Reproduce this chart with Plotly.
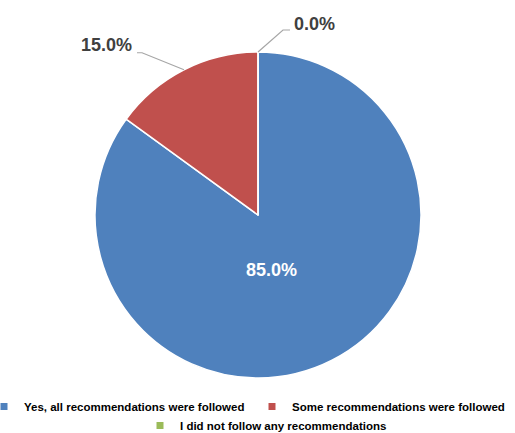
import math
import plotly.graph_objects as go

# ---- data ----
labels = [
    "Yes, all recommendations were followed",
    "Some recommendations were followed",
    "I did not follow any recommendations",
]
values = [85.0, 15.0, 0.0]
colors = ["#4F81BD", "#C0504D", "#9BBB59"]

# ---- geometry (pixels) ----
W, H = 515, 433
CX, CY, R = 258, 215, 163
FONT = "Liberation Sans"
LABEL_COLOR = "#404040"
LEADER_COLOR = "#A6A6A6"


def px_to_paper(x, y):
    return x / W, 1 - y / H


dx0, dy1 = px_to_paper(CX - R, CY - R)
dx1, dy0 = px_to_paper(CX + R, CY + R)

fig = go.Figure()
fig.add_trace(go.Pie(
    labels=labels,
    values=values,
    sort=False,
    direction="clockwise",
    rotation=0,
    marker=dict(colors=colors, line=dict(color="white", width=1.5)),
    textinfo="none",
    hoverinfo="label+percent",
    showlegend=False,
    domain=dict(x=[dx0, dx1], y=[dy0, dy1]),
))

# ---- data labels ----
total = sum(values)
# placement per slice: (kind, elbow offset, end offset, text offset)
placement = [
    ("inside", None, None, None),
    ("left", (-42, -17), (-47, -17), (-50, -25)),
    ("right", (25, -22), (32, -22), (34, -28)),
]
cum = 0.0
for v, (kind, elbow, end, toff) in zip(values, placement):
    theta = (cum + v / 2) / total * 2 * math.pi
    cum += v
    text = f"{v / total * 100:.1f}%"
    s, c = math.sin(theta), math.cos(theta)
    if kind == "inside":
        x, y = px_to_paper(CX + 0.36 * R * s, CY - 0.36 * R * c)
        fig.add_annotation(x=x, y=y, xref="paper", yref="paper", text=text,
                           showarrow=False, xanchor="center", yanchor="middle",
                           xshift=-13, yshift=-3,
                           font=dict(family=FONT, size=18, color="white", weight="bold"))
        continue
    ex, ey = CX + R * s, CY - R * c
    pts = [(ex, ey), (ex + elbow[0], ey + elbow[1]), (ex + end[0], ey + end[1])]
    path = ""
    for i, (px, py) in enumerate(pts):
        qx, qy = px_to_paper(px, py)
        path += ("M" if i == 0 else " L") + f"{qx:.5f},{qy:.5f}"
    fig.add_shape(type="path", path=path, xref="paper", yref="paper",
                  line=dict(color=LEADER_COLOR, width=1.2))
    tx, ty = px_to_paper(ex + toff[0], ey + toff[1])
    fig.add_annotation(x=tx, y=ty, xref="paper", yref="paper", text=text,
                       showarrow=False,
                       xanchor="right" if kind == "left" else "left",
                       yanchor="middle",
                       font=dict(family=FONT, size=18, color=LABEL_COLOR, weight="bold"))

# ---- legend entries (one legend per entry so rows can be placed freely) ----
legend_names = ["legend", "legend2", "legend3"]
legend_pos = [(-16, 406.5), (252, 406.5), (140, 425.5)]
for lab, col, lname in zip(labels, colors, legend_names):
    fig.add_trace(go.Scatter(
        x=[None], y=[None], mode="markers", name=lab,
        marker=dict(symbol="square", size=7, color=col),
        legend=lname, showlegend=True, hoverinfo="skip",
    ))

legend_style = dict(
    orientation="h", xanchor="left", yanchor="middle",
    bgcolor="rgba(0,0,0,0)", borderwidth=0,
    font=dict(family=FONT, size=11.5, color="#000000", weight="bold"),
)
layout_legends = {}
for lname, (lx, ly) in zip(legend_names, legend_pos):
    px_, py_ = px_to_paper(lx, ly)
    layout_legends[lname] = dict(legend_style, x=px_, y=py_)

fig.update_layout(
    width=W, height=H,
    margin=dict(l=0, r=0, t=0, b=0, autoexpand=False),
    paper_bgcolor="white",
    plot_bgcolor="white",
    xaxis=dict(visible=False),
    yaxis=dict(visible=False),
    **layout_legends,
)

fig.write_html("out.html")
